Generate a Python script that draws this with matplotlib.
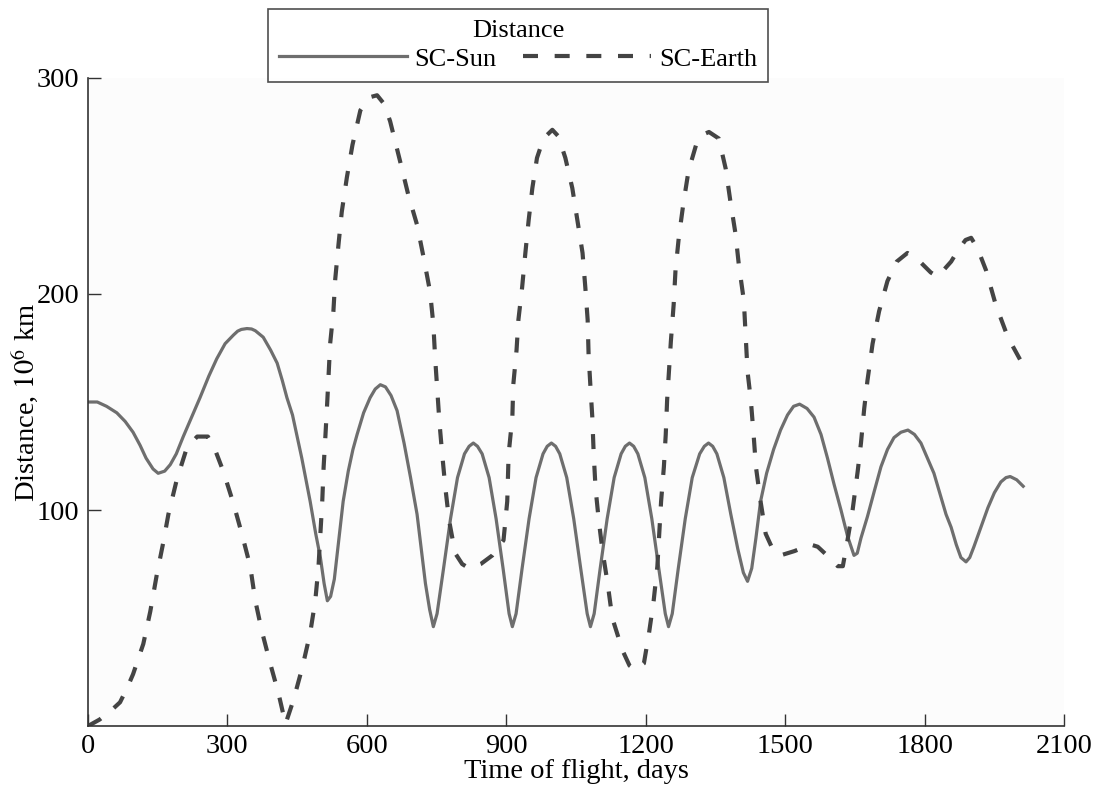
import numpy as np
from matplotlib import pyplot as plt

plt.rcParams['font.family'] = ['Liberation Serif', 'DejaVu Serif']
plt.rcParams['mathtext.fontset'] = 'stix'

# SC-Sun distance (10^6 km)
sun_days = [0, 20, 40, 62, 80, 97, 112, 125, 140, 151, 165, 177, 190, 205, 225, 241, 260, 277, 295, 313,
            322, 330, 342, 352, 360, 377, 393, 407, 418, 428, 440, 449, 460, 470, 478, 490, 500, 508, 515, 522, 530, 540,
            549, 560, 570, 579, 593, 607, 618, 629, 640, 652, 665, 680, 694, 708, 718, 726, 735, 743, 751, 765,
            780, 795, 810, 820, 829, 838, 848, 863, 878, 893, 906, 913, 921, 934, 949, 964, 979, 988, 997, 1006, 1015, 1030, 1045, 1060,
            1074, 1081, 1089, 1102, 1117, 1132, 1147, 1156, 1165, 1174, 1183, 1198, 1213, 1228, 1242, 1249, 1257, 1270, 1285, 1300, 1316, 1326, 1335,
            1344, 1353, 1368, 1383, 1398, 1410, 1419, 1428, 1437, 1447, 1460, 1475, 1490, 1505, 1518, 1531, 1547, 1562, 1577, 1591, 1605,
            1620, 1634, 1648, 1655, 1663, 1677, 1692, 1706, 1720, 1734, 1749, 1764, 1778, 1792, 1806, 1820, 1835, 1846, 1857, 1868,
            1878, 1889, 1897, 1906, 1921, 1936, 1950, 1964, 1975, 1984, 1998, 2012]
sun_dist = [150, 150, 148, 145, 141, 136, 130, 124, 119, 117, 118, 121, 126, 134, 144, 152, 162, 170, 177, 181,
            182.8, 183.6, 184, 183.8, 183, 180, 174, 168, 160, 152, 144, 135, 124, 113, 104, 89, 78, 66, 58, 60, 68, 87,
            104, 118, 128, 135, 145, 152, 156, 158, 157, 153, 146, 131, 115, 98, 80, 66, 54, 46, 52, 73,
            96, 115, 126, 129.5, 131, 129.5, 126, 115, 96, 73, 52, 46, 52, 73, 96, 115, 126, 129.5, 131, 129.5, 126, 115, 96, 73,
            52, 46, 52, 73, 96, 115, 126, 129.5, 131, 129.5, 126, 115, 96, 73, 52, 46, 52, 73, 96, 115, 126, 129.5, 131,
            129.5, 126, 115, 98, 82, 71, 67, 73, 87, 104, 117, 128, 137, 144, 148, 149, 147, 143, 135, 124, 112,
            100, 88, 79, 80, 87, 97, 109, 120, 128, 133.5, 136, 137, 135, 131, 124, 117, 106, 98, 92, 84,
            78, 76, 78, 83, 92, 101, 108, 113, 115, 115.5, 114, 111]

# SC-Earth distance (10^6 km)
earth_days = [0, 25, 54, 69, 85, 97, 119, 134, 148, 162, 173, 191, 213, 235, 258, 275, 291, 313, 331, 349,
              360, 374, 392, 410, 425, 442, 461, 478, 489, 496, 500, 504, 507, 511, 515, 521, 528, 532, 539, 546,
              557, 569, 586, 605, 622, 637, 650, 672, 689, 708, 722, 736, 743, 747, 751, 756, 762, 769, 777, 790,
              805, 820, 845, 870, 894, 902, 905, 913, 915, 922, 926, 934, 941, 948, 956, 966, 980, 999, 1012, 1027,
              1042, 1053, 1064, 1070, 1075, 1077, 1081, 1085, 1088, 1092, 1099, 1107, 1118, 1128, 1150, 1165, 1178, 1196, 1207, 1217,
              1225, 1229, 1233, 1239, 1243, 1246, 1254, 1260, 1264, 1271, 1281, 1292, 1311, 1325, 1336, 1357, 1372, 1382, 1393, 1400,
              1411, 1415, 1419, 1426, 1432, 1437, 1447, 1458, 1475, 1490, 1520, 1555, 1570, 1595, 1613, 1624, 1634, 1645, 1656, 1663,
              1670, 1677, 1688, 1702, 1720, 1740, 1763, 1785, 1813, 1828, 1857, 1871, 1888, 1900, 1914, 1932, 1953, 1979, 2012]
earth_dist = [0, 3, 8, 11, 18, 24, 38, 53, 70, 85, 98, 114, 129, 134, 134, 127, 118, 103, 89, 74,
              58, 44, 29, 15, 1, 12, 27, 43, 58, 74, 89, 104, 120, 135, 151, 177, 192, 207, 223, 238,
              254, 269, 285, 291, 292, 288, 280, 261, 246, 232, 217, 201, 186, 170, 157, 141, 126, 110, 95, 80,
              75, 73, 75, 79, 86, 104, 126, 143, 158, 174, 188, 203, 219, 234, 249, 263, 272, 276, 273, 263,
              249, 234, 219, 203, 188, 172, 157, 143, 126, 110, 95, 81, 66, 50, 35, 28, 26, 29, 43, 58,
              74, 89, 104, 120, 135, 151, 178, 195, 211, 226, 242, 257, 271, 274, 275, 272, 258, 243, 228, 214,
              197, 180, 164, 151, 135, 120, 104, 89, 81, 79, 81, 84, 83, 78, 74, 74, 86, 100, 118, 131,
              147, 160, 177, 192, 206, 215, 219, 216, 210, 208, 215, 220, 225, 226, 221, 211, 195, 180, 167]

x_ticks = [0, 300, 600, 900, 1200, 1500, 1800, 2100]
y_ticks = [100, 200, 300]

fig = plt.figure(figsize=(10.97, 7.94), dpi=100)
ax = fig.add_axes([0.0802, 0.0856, 0.8898, 0.8162])
ax.set_facecolor('#fcfcfc')

ax.plot(sun_days, sun_dist, color='#6e6e6e', lw=2.3, label='SC-Sun')
ax.plot(earth_days, earth_dist, color='#444444', lw=3.0, linestyle=(0, (3.6, 4.0)), label='SC-Earth')

ax.set_xlim(0, 2100)
ax.set_ylim(0, 300)
ax.set_xticks(x_ticks)
ax.set_yticks(y_ticks)
ax.tick_params(direction='in', length=9, width=1, labelsize=20.5, pad=6, color='#333333')
for s in ['top', 'right']:
    ax.spines[s].set_visible(False)
for s in ['left', 'bottom']:
    ax.spines[s].set_linewidth(1.2)
    ax.spines[s].set_color('#333333')

ax.set_xlabel('Time of flight, days', fontsize=20.5, labelpad=0)
ax.set_ylabel('Distance, $10^6$ km', fontsize=20.5, labelpad=-2)

leg = fig.legend(loc='upper left', bbox_to_anchor=(0.244, 0.989), ncol=2, title='Distance',
                 fontsize=19, title_fontsize=19, frameon=True, fancybox=False,
                 handlelength=4.85, handletextpad=0.3, columnspacing=1.0,
                 borderpad=0.42, borderaxespad=0, labelspacing=0.2)
leg.get_frame().set_edgecolor('#222222')
leg.get_frame().set_linewidth(1.2)

fig.savefig('out.png', dpi=100)
